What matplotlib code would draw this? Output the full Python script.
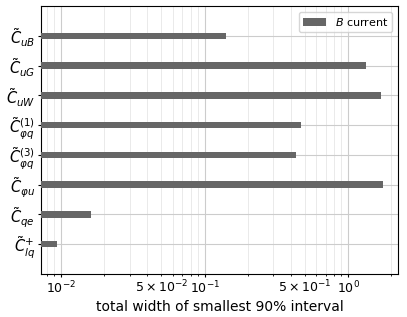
import numpy as np
import matplotlib
matplotlib.use('Agg')
import matplotlib.pyplot as plt
from matplotlib import ticker

coeffs = [r'$\tilde{C}_{uB}$', r'$\tilde{C}_{uG}$', r'$\tilde{C}_{uW}$',
          r'$\tilde{C}_{\varphi q}^{(1)}$', r'$\tilde{C}_{\varphi q}^{(3)}$',
          r'$\tilde{C}_{\varphi u}$', r'$\tilde{C}_{qe}$', r'$\tilde{C}_{lq}^{+}$']
widths = [0.140, 1.335, 1.70, 0.47, 0.434, 1.75, 0.0162, 0.00938]

fig, ax = plt.subplots(figsize=(4.07, 3.17), dpi=100)
pos = np.arange(len(coeffs))
ax.barh(pos, widths, height=0.22, color='#666666', label=r'$B$ current', zorder=3)
ax.set_xscale('log')
ax.set_xlim(0.00726, 2.23)
ax.set_ylim(len(coeffs), -1.0)
ax.set_yticks(pos)
ax.set_yticklabels(coeffs, fontsize=10.5)


def minor_fmt(x, p):
    e = int(np.floor(np.log10(x) + 1e-9))
    m = x / 10**e
    if abs(m - 5) < 1e-6:
        return r'$\mathdefault{5\times10^{%d}}$' % e
    return ''


ax.xaxis.set_minor_formatter(ticker.FuncFormatter(minor_fmt))
ax.tick_params(axis='both', which='major', length=2.3, pad=2)
ax.tick_params(axis='x', which='minor', length=1.4, pad=2)
ax.tick_params(axis='x', which='both', labelsize=9)
ax.grid(True, which='major', color='#cccccc', lw=0.8, zorder=0)
ax.grid(True, which='minor', axis='x', color='#e6e6e6', lw=0.6, zorder=0)
ax.set_xlabel('total width of smallest 90% interval', fontsize=10, labelpad=2.5)
ax.legend(loc='upper right', fontsize=8)
fig.subplots_adjust(left=0.101, right=0.978, top=0.981, bottom=0.136)
fig.savefig('out.png')
